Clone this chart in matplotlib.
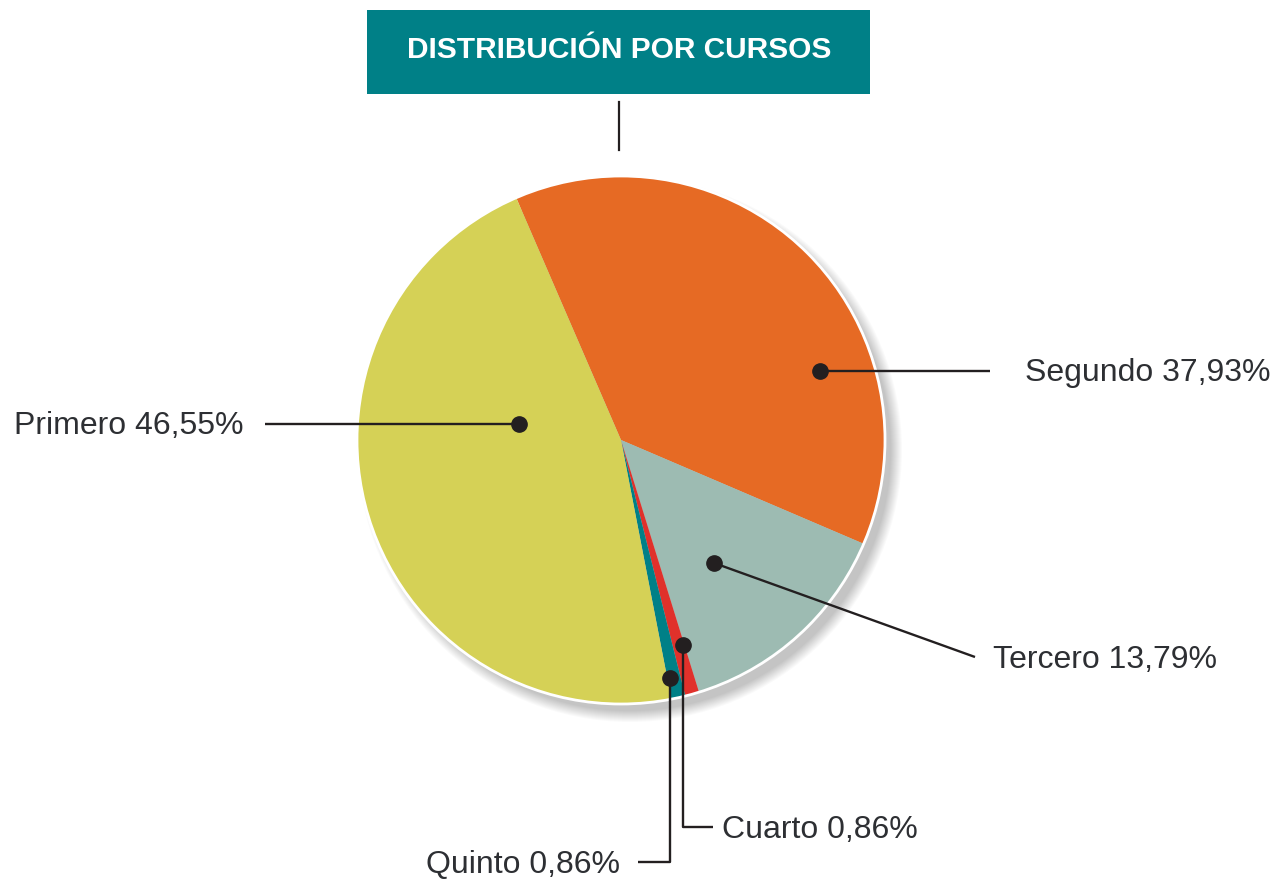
import matplotlib.pyplot as plt
from matplotlib.patches import Rectangle, Circle

W, H = 1285, 883

# data (slice order = clockwise from the top-left edge)
cursos = ["Segundo", "Tercero", "Cuarto", "Quinto", "Primero"]
porcentajes = [37.93, 13.79, 0.86, 0.86, 46.55]
colores = ["#e66a24", "#9dbbb2", "#e0312b", "#008087", "#d5d156"]
titulo = "DISTRIBUCIÓN POR CURSOS"

# label anchors in pixel coords (dot, leader path, text pos, alignment)
anchors = {
    "Segundo": ([(820, 371), (990, 371)], (1025, 381), "left"),
    "Primero": ([(519, 424), (265, 424)], (243, 434), "right"),
    "Tercero": ([(714, 563), (975, 657)], (993, 668), "left"),
    "Cuarto": ([(683, 645), (683, 827), (713, 827)], (722, 838), "left"),
    "Quinto": ([(670, 678), (670, 862), (638, 862)], (620, 873), "right"),
}

def fy(y):
    return H - y

fig = plt.figure(figsize=(W / 100, H / 100), dpi=100)
ax = fig.add_axes([0, 0, 1, 1])

cx, cy, r = 621, fy(440), 264

# soft shadow to the lower right only
for i in range(12):
    ax.add_patch(Circle((cx + 9, cy - 10), r + 8 - i, color="black", alpha=0.018, lw=0, zorder=0))

ax.pie(porcentajes, colors=colores, startangle=113.4, counterclock=False,
       center=(cx, cy), radius=r, wedgeprops=dict(linewidth=0), frame=True)
ax.add_patch(Circle((cx, cy), r, fill=False, ec="white", lw=2, zorder=3))

ax.set_xlim(0, W)
ax.set_ylim(0, H)
ax.axis("off")

# title box
ax.add_patch(Rectangle((367, fy(94)), 503, 84, color="#008087", lw=0, zorder=4))
ax.text(619, fy(50), titulo, color="white", ha="center", va="center",
        fontsize=21.5, fontweight="bold",
        family=["Liberation Sans", "DejaVu Sans"], zorder=5)
ax.plot([619, 619], [fy(102), fy(150)], color="#231f20", lw=1.6, zorder=4)

for nombre, pct in zip(cursos, porcentajes):
    path, (tx, ty), ha = anchors[nombre]
    xs = [p[0] for p in path]
    ys = [fy(p[1]) for p in path]
    ax.plot(xs, ys, color="#231f20", lw=1.7, zorder=6, solid_capstyle="butt")
    ax.plot(xs[0], ys[0], "o", color="#231f20", ms=11, zorder=7)
    texto = f"{nombre} {pct:.2f}".replace(".", ",") + "%"
    ax.text(tx, fy(ty), texto, ha=ha, va="baseline", fontsize=23,
            color="#2d2f33", family=["Liberation Sans", "DejaVu Sans"], zorder=7)

fig.savefig("out.png", dpi=100, facecolor="white")
